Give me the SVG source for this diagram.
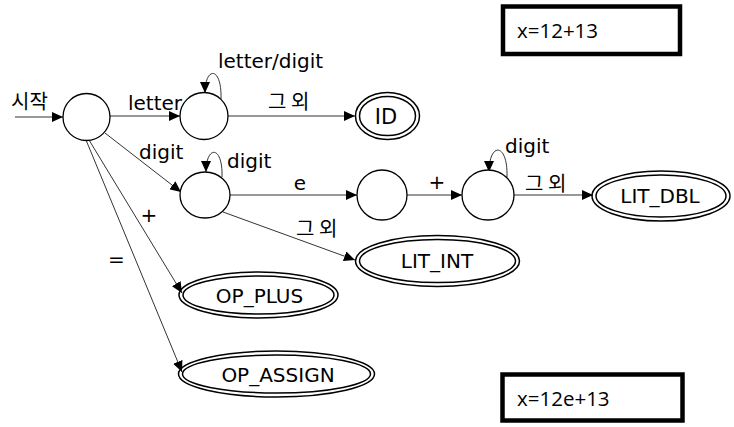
<svg xmlns="http://www.w3.org/2000/svg" width="734" height="427" viewBox="0 0 734 427">
<defs>
<style>
.bg{fill:#fff}
.st{fill:#fff;stroke:#000;stroke-width:1.3}
.acc{fill:none;stroke:#000;stroke-width:1.5}
.edge{fill:none;stroke:#333;stroke-width:1}
.lbl{font-family:"DejaVu Sans","Noto Sans CJK KR",sans-serif;font-size:20px;fill:#000}
.ko{font-family:"Noto Sans CJK KR","Noto Sans",sans-serif;font-size:20px;fill:#000}
.nl{font-family:"DejaVu Sans","Noto Sans",sans-serif;font-size:20px;fill:#000;text-anchor:middle}
.box{fill:#fff;stroke:#000;stroke-width:4.5}
.bt{font-family:"Open Sans","Liberation Sans",sans-serif;font-size:20.5px;fill:#000}
</style>
<marker id="ah" markerUnits="userSpaceOnUse" markerWidth="11" markerHeight="10" refX="11" refY="5" orient="auto">
<path d="M0,0 L11,5 L0,10 z" fill="#000"/>
</marker>
</defs>
<rect class="bg" x="0" y="0" width="734" height="427"/>

<g id="connectors">
<line class="edge" x1="15" y1="117" x2="63" y2="117" marker-end="url(#ah)"/>
<line class="edge" x1="110" y1="116" x2="180" y2="116" marker-end="url(#ah)"/>
<path class="edge" d="M221,99 C222,66 205,66 205,93" marker-end="url(#ah)"/>
<line class="edge" x1="228" y1="116" x2="355" y2="116" marker-end="url(#ah)"/>
<line class="edge" x1="105" y1="133" x2="181" y2="192" marker-end="url(#ah)"/>
<path class="edge" d="M222,177 C223,145 206,145 206,172" marker-end="url(#ah)"/>
<line class="edge" x1="230" y1="195" x2="357" y2="195" marker-end="url(#ah)"/>
<line class="edge" x1="223" y1="212" x2="355" y2="260" marker-end="url(#ah)"/>
<line class="edge" x1="407" y1="195" x2="462" y2="195" marker-end="url(#ah)"/>
<path class="edge" d="M507,177 C508,142 489,142 489,172" marker-end="url(#ah)"/>
<line class="edge" x1="514" y1="195" x2="593" y2="195" marker-end="url(#ah)"/>
<line class="edge" x1="89" y1="140" x2="182" y2="293" marker-end="url(#ah)"/>
<line class="edge" x1="86" y1="140" x2="182" y2="372" marker-end="url(#ah)"/>
<text class="ko" x="11" y="108.5">시작</text>
<text class="lbl" x="128" y="110">letter</text>
<text class="lbl" x="218" y="68">letter/digit</text>
<text class="ko" x="268" y="108.5">그 외</text>
<text class="lbl" x="139" y="159">digit</text>
<text class="lbl" x="227" y="168">digit</text>
<text class="lbl" x="300" y="190" text-anchor="middle">e</text>
<text class="ko" x="296" y="235.5">그 외</text>
<text class="lbl" x="437" y="189" text-anchor="middle">+</text>
<text class="lbl" x="505" y="153">digit</text>
<text class="ko" x="525" y="190.5">그 외</text>
<text class="lbl" x="149" y="222" text-anchor="middle">+</text>
<text class="lbl" x="116.5" y="266" text-anchor="middle">=</text>
</g>

<g id="n-start"><ellipse class="st" cx="86.5" cy="117" rx="23.5" ry="23.5"/></g>
<g id="n-letter"><ellipse class="st" cx="204" cy="116" rx="24" ry="23.5"/></g>
<g id="n-digit"><ellipse class="st" cx="205" cy="195" rx="25" ry="23"/></g>
<g id="n-e"><ellipse class="st" cx="382" cy="195" rx="25" ry="25"/></g>
<g id="n-exp"><ellipse class="st" cx="488" cy="195" rx="26" ry="25"/></g>

<g id="n-id">
<ellipse class="acc" cx="387.5" cy="116" rx="32" ry="23.5"/>
<ellipse class="acc" cx="387.5" cy="116" rx="28" ry="19.5"/>
<text class="nl" x="386" y="124" style="font-size:21px">ID</text>
</g>
<g id="n-litint">
<ellipse class="acc" cx="437.5" cy="261" rx="82" ry="25.5"/>
<ellipse class="acc" cx="437.5" cy="261" rx="78" ry="21.5"/>
<text class="nl" x="437" y="268">LIT_INT</text>
</g>
<g id="n-litdbl">
<ellipse class="acc" cx="661" cy="196" rx="69" ry="25"/>
<ellipse class="acc" cx="661" cy="196" rx="65" ry="21"/>
<text class="nl" x="660" y="203">LIT_DBL</text>
</g>
<g id="n-opplus">
<ellipse class="acc" cx="258.5" cy="295" rx="79.5" ry="23"/>
<ellipse class="acc" cx="258.5" cy="295" rx="75.5" ry="19"/>
<text class="nl" x="259.5" y="303">OP_PLUS</text>
</g>
<g id="n-opassign">
<ellipse class="acc" cx="276.5" cy="374" rx="98" ry="23"/>
<ellipse class="acc" cx="276.5" cy="374" rx="94" ry="19"/>
<text class="nl" x="278" y="382">OP_ASSIGN</text>
</g>

<g id="box-top">
<rect class="box" x="503" y="6.5" width="177" height="47.5"/>
<text class="bt" x="517" y="38">x=12+13</text>
</g>
<g id="box-bottom">
<rect class="box" x="502.5" y="374.5" width="180" height="46"/>
<text class="bt" x="517" y="406">x=12e+13</text>
</g>
</svg>
